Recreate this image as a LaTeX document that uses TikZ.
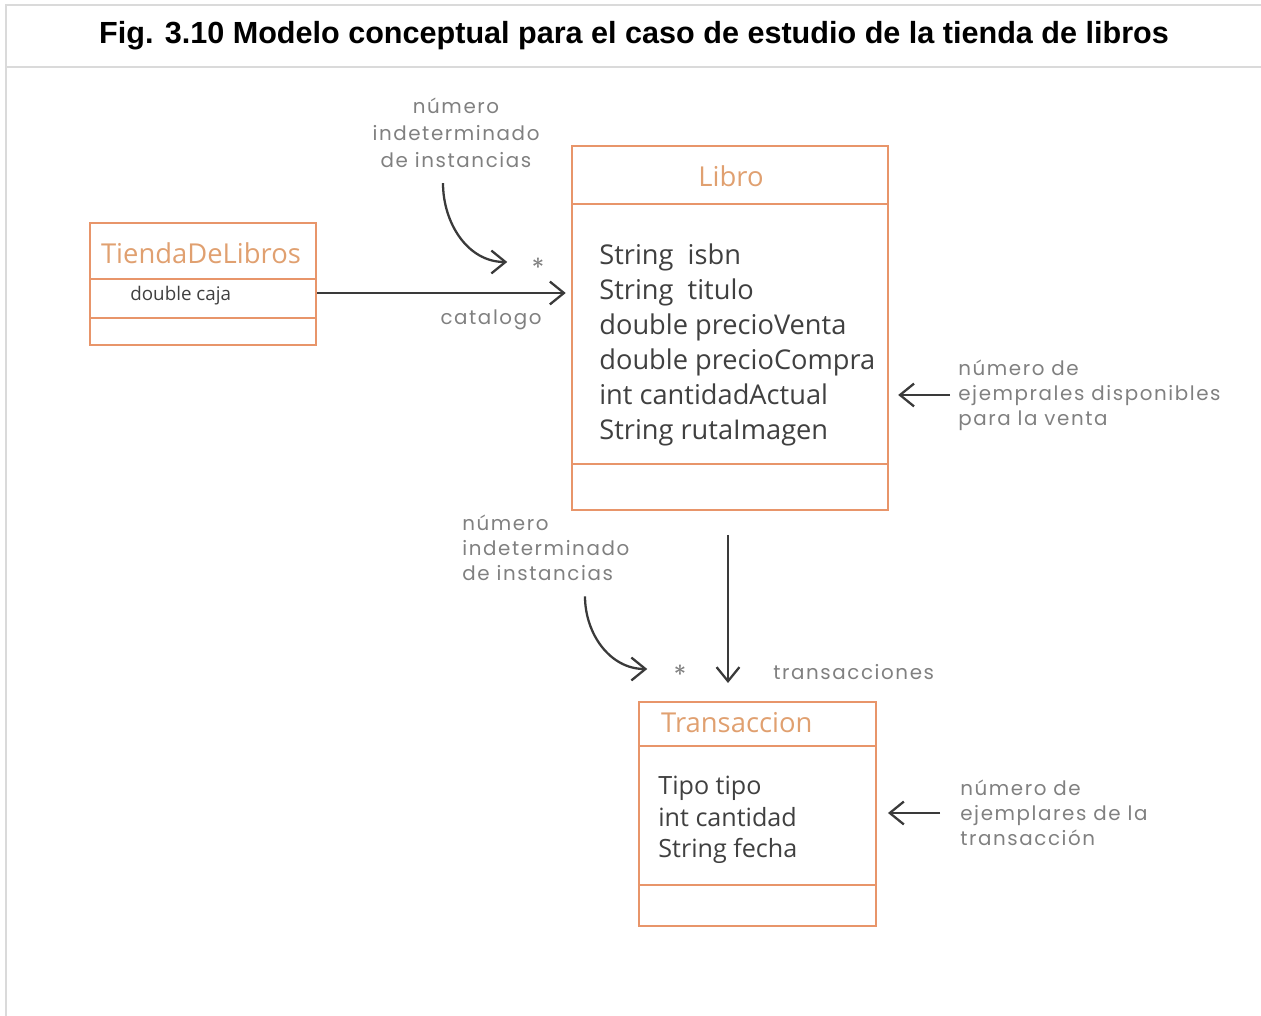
\documentclass[tikz,border=0pt]{standalone}
\usepackage{fontspec}
\setmainfont{Open Sans}
\newfontfamily\titlefont{Liberation Sans}
\newfontfamily\notefont[LetterSpace=8]{Poppins}
\usetikzlibrary{arrows.meta,calc}
\definecolor{naranja}{HTML}{E8956A}
\definecolor{textonar}{HTML}{E0A070}
\definecolor{nota}{HTML}{808080}
\definecolor{marco}{HTML}{DADADA}
\definecolor{oscuro}{HTML}{3A3A3A}
\tikzset{
  clase/.style={draw=naranja,line width=1.4pt,anchor=north west,inner sep=0},
  cabecera/.style={text=textonar,font=\fontsize{15.6}{18}\selectfont},
  attr/.style={text=black!75,align=left,anchor=west,inner sep=0},
  nota/.style={font=\notefont\fontsize{11.3}{14.2}\selectfont,text=nota,align=left,inner sep=0},
  flecha/.style={draw=oscuro,line width=1.3pt,-{Straight Barb[length=8pt,width=13pt]}}
}
\begin{document}
\begin{tikzpicture}[x=0.02cm,y=-0.02cm]
\useasboundingbox (0,0) rectangle (1261,1016);
% marco y titulo
\draw[marco,line width=1.6pt] (6,1016) -- (6,5) -- (1261,5);
\draw[marco,line width=1.6pt] (6,67) -- (1261,67);
\node[font=\titlefont\bfseries\fontsize{17.4}{20}\selectfont] (title) at (634,36) {Fig. 3.10 Modelo conceptual para el caso de estudio de la tienda de libros};
% clases
\node[clase,minimum width=4.52cm,minimum height=2.44cm] (tienda) at (89,222) {};
\node[clase,minimum width=6.32cm,minimum height=7.28cm] (libro) at (571,145) {};
\node[clase,minimum width=4.74cm,minimum height=4.48cm] (trans) at (638,701) {};
\foreach \y in {279,318} \draw[naranja,line width=1.4pt] (tienda.west |- 0,\y) -- (tienda.east |- 0,\y);
\foreach \y in {204,464} \draw[naranja,line width=1.4pt] (libro.west |- 0,\y) -- (libro.east |- 0,\y);
\foreach \y in {746,885} \draw[naranja,line width=1.4pt] (trans.west |- 0,\y) -- (trans.east |- 0,\y);
\node[cabecera] (tiendaT) at (201,253) {TiendaDeLibros};
\node[attr,font=\fontsize{10.7}{12}\selectfont] (caja) at (130,296) {double caja};
\node[cabecera] (libroT) at (731,176) {Libro};
\node[attr,font=\fontsize{15.5}{20}\selectfont] (libroA) at (599,345) {String\ \ isbn\\String\ \ titulo\\double precioVenta\\double precioCompra\\int cantidadActual\\String rutaImagen};
\node[cabecera,anchor=west] (transT) at (655,723) {Transaccion};
\node[attr,font=\fontsize{14.3}{18}\selectfont] (transA) at (658,820) {Tipo tipo\\int cantidad\\String fecha};
% notas
\node[nota,align=center,font=\notefont\fontsize{11.3}{15.3}\selectfont] (nota1) at (456,133) {número\\indeterminado\\de instancias};
\node[nota,anchor=north west] (nota2) at (462,515) {número\\indeterminado\\de instancias};
\node[nota,anchor=west] (nota3) at (958,395) {número de\\ejemprales disponibles\\para la venta};
\node[nota,anchor=west] (nota4) at (960,813) {número de\\ejemplares de la\\transacción};
\node[nota,font=\notefont\fontsize{15}{15}\selectfont] (star1) at (538,268) {*};
\node[nota,font=\notefont\fontsize{15}{15}\selectfont] (star2) at (680,675) {*};
\node[nota] (catalogo) at (491,320) {catalogo};
\node[nota,anchor=west] (transacciones) at (773,672) {transacciones};
% conectores
\draw[flecha] (tienda.east |- 0,293) -- ([xshift=-3pt]libro.west |- 0,293);
\draw[flecha] (728,535) -- (728,683);
\draw[flecha] ($(nota1.south)+(-13,15)$) to[out=-90,in=180] ($(star1.west)+(-24,-6)$);
\draw[flecha] ($(nota2.south west)+(123,15)$) to[out=-90,in=180] ($(star2.west)+(-26,-6)$);
\draw[flecha] ($(nota3.west)+(-8,0)$) -- ([xshift=5pt]libro.east |- nota3.west);
\draw[flecha] ($(nota4.west)+(-20,0)$) -- ([xshift=6pt]trans.east |- nota4.west);
\end{tikzpicture}
\end{document}
